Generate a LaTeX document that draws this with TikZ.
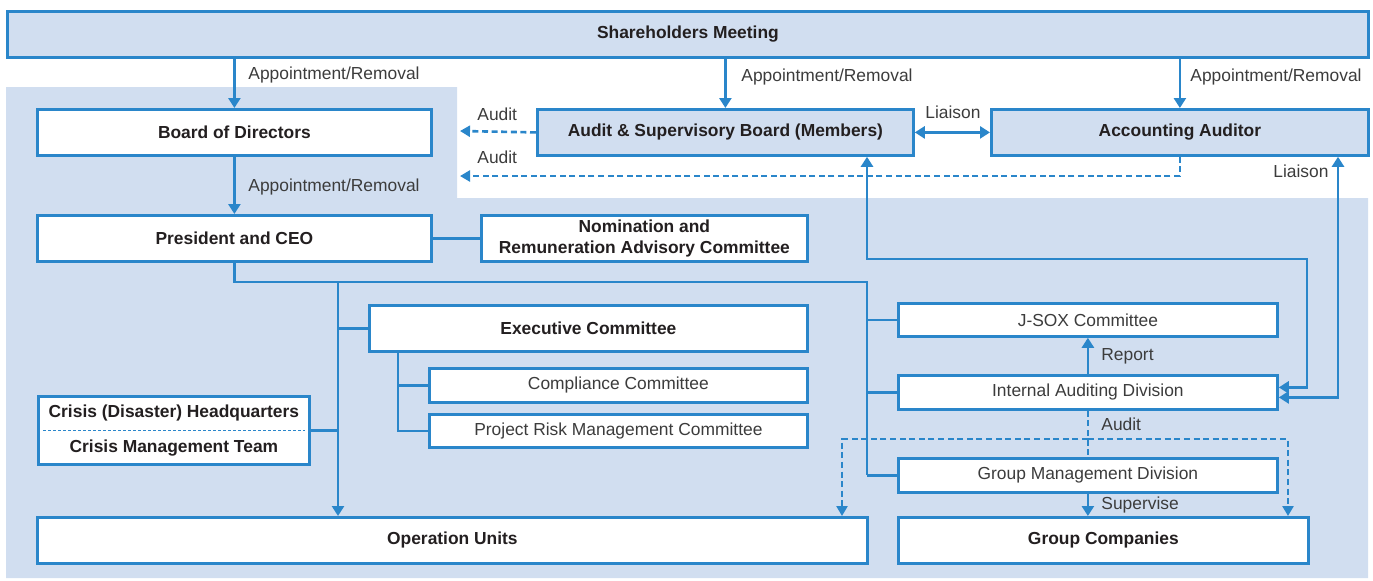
\documentclass[tikz,border=0pt]{standalone}
\usepackage{fontspec}
\setmainfont{Liberation Sans}
\usetikzlibrary{arrows.meta, positioning}
\definecolor{orgblue}{HTML}{2A86CA}
\definecolor{bglight}{HTML}{D1DEF0}
\definecolor{inktext}{HTML}{231F20}
\definecolor{labelgray}{HTML}{3C3C3C}
\newcommand{\chartfont}{\fontsize{8.7}{10.4}\selectfont}

\begin{document}
\begin{tikzpicture}[
        x=0.5pt, y=-0.5pt,
        unit/.style={rectangle, draw=orgblue, line width=1.4pt, fill=white, anchor=north west, inner sep=0pt, align=center, font=\chartfont\bfseries, text=inktext},
        shaded/.style={unit, fill=bglight},
        plain/.style={unit, font=\chartfont, text=labelgray},
        link/.style={draw=orgblue, line width=1.3pt},
        arrow/.style={link, -{Triangle[length=5pt, width=6pt]}},
        duplex/.style={link, {Triangle[length=5pt, width=6pt]}-{Triangle[length=5pt, width=6pt]}},
        auditarrow/.style={link, dash pattern=on 3pt off 1.8pt, -{Triangle[length=5pt, width=5.5pt]}},
        auditline/.style={link, dash pattern=on 3pt off 1.8pt},
        lbl/.style={font=\chartfont, text=labelgray, anchor=mid west, inner sep=0pt}
    ]
        \useasboundingbox (0,0) rectangle (1373,580);
        % background area
        \fill[bglight] (6,87) -- (457,87) -- (457,198) -- (1368,198) -- (1368,578) -- (6,578) -- cycle;

        \node[shaded, minimum width=680.5pt, minimum height=23pt] (share) at (6,10) {Shareholders Meeting};
        \node[unit, minimum width=197pt, minimum height=23pt] (board) at (36,108) {Board of Directors};
        \node[shaded, minimum width=188pt, minimum height=23pt] (asb) at (536,108) {Audit \& Supervisory Board (Members)};
        \node[shaded, minimum width=188.5pt, minimum height=23pt] (accaud) at (990,108) {Accounting Auditor};
        \node[unit, minimum width=197pt, minimum height=23pt] (ceo) at (36,214) {President and CEO};
        \node[unit, minimum width=163pt, minimum height=23pt] (nom) at (480,214) {Nomination and\\Remuneration Advisory Committee};
        \node[unit, minimum width=219pt, minimum height=23pt] (exec) at (368,304) {Executive Committee};
        \node[plain, minimum width=189pt, minimum height=17pt] (comp) at (428,367) {Compliance Committee};
        \node[plain, minimum width=189pt, minimum height=16.5pt] (prm) at (428,413) {Project Risk Management Committee};
        \node[unit, minimum width=135.5pt, minimum height=34pt] (crisis) at (37,395) {Crisis (Disaster) Headquarters\\[7pt]Crisis Management Team};
        \node[plain, minimum width=189.5pt, minimum height=16.5pt] (jsox) at (897,302) {J-SOX Committee};
        \node[plain, minimum width=189.5pt, minimum height=17pt] (iad) at (897,374) {Internal Auditing Division};
        \node[plain, minimum width=189.5pt, minimum height=17pt] (gmd) at (897,457) {Group Management Division};
        \node[unit, minimum width=415pt, minimum height=23pt] (opu) at (36,516) {Operation Units};
        \node[unit, minimum width=205pt, minimum height=23pt] (grpco) at (897,516) {Group Companies};

        \draw[orgblue, line width=0.4pt, dash pattern=on 1.5pt off 1pt] ([xshift=3pt]crisis.west) -- ([xshift=-3pt]crisis.east);

        % fixed bends
        \coordinate (audittip) at (460,131);
        \coordinate (audittipB) at (460,176);
        \coordinate (trunkL) at (338,282);
        \coordinate (trunkR) at (867,282);
        \coordinate (subtrunk) at (398,350);
        \coordinate (asbdrop) at (867,259);
        \coordinate (liaisonbend) at (1307,259);
        \coordinate (accdrop) at (1338,300);
        \coordinate (auditL) at (842,439);
        \coordinate (auditR) at (1288,439);

        % appointment and audit
        \draw[arrow] (board.north |- share.south) -- (board.north);
        \draw[arrow] (asb.north |- share.south) -- (asb.north);
        \draw[arrow] (accaud.north |- share.south) -- (accaud.north);
        \draw[duplex] (asb.east) -- (accaud.west);
        \draw[auditarrow] (asb.west) -- (audittip);
        \draw[auditarrow] (accaud.south) |- (audittipB);
        \draw[arrow] (board.south) -- (ceo.north);
        \draw[link] (ceo.east) -- (nom.west);

        % executive line
        \draw[link] (ceo.south) |- (trunkR) -- (gmd.west -| trunkR);
        \draw[arrow] (trunkL) -- (opu.north -| trunkL);
        \draw[link] (exec.west) -- (exec.west -| trunkL);
        \draw[link] (crisis.east) -- (crisis.east -| trunkL);
        \draw[link] (subtrunk) |- (prm.west);
        \draw[link] (comp.west) -- (comp.west -| subtrunk);
        \draw[link] (jsox.west) -- (jsox.west -| trunkR);
        \draw[link] (iad.west) -- (iad.west -| trunkR);
        \draw[link] (gmd.west) -- (gmd.west -| trunkR);

        % internal audit
        \draw[arrow] (iad.north) -- (jsox.south);
        \draw[auditline] (iad.south) -- (gmd.north);
        \draw[auditarrow] (iad.south |- auditL) -| (opu.north -| auditL);
        \draw[auditarrow] (iad.south |- auditR) -| (grpco.north -| auditR);
        \draw[arrow] (gmd.south) -- (gmd.south |- grpco.north);
        \draw[duplex] (asb.south -| asbdrop) |- (liaisonbend) |- ([yshift=2.5pt]iad.east);
        \draw[duplex] (accaud.south -| accdrop) |- ([yshift=-2.5pt]iad.east);

        % labels
        \node[lbl] (lblAppA) at (248,74) {Appointment/Removal};
        \node[lbl] (lblAppB) at (741,76) {Appointment/Removal};
        \node[lbl] (lblAppC) at (1190,76) {Appointment/Removal};
        \node[lbl] (lblAppD) at (248,186) {Appointment/Removal};
        \node[lbl] (lblLiaisonA) at (925,113) {Liaison};
        \node[lbl] (lblLiaisonB) at (1273,172) {Liaison};
        \node[lbl] (lblAuditA) at (477,115) {Audit};
        \node[lbl] (lblAuditB) at (477,158) {Audit};
        \node[lbl] (lblReport) at (1101,355) {Report};
        \node[lbl] (lblAuditC) at (1101,425) {Audit};
        \node[lbl] (lblSupervise) at (1101,504) {Supervise};
    \end{tikzpicture}
\end{document}
